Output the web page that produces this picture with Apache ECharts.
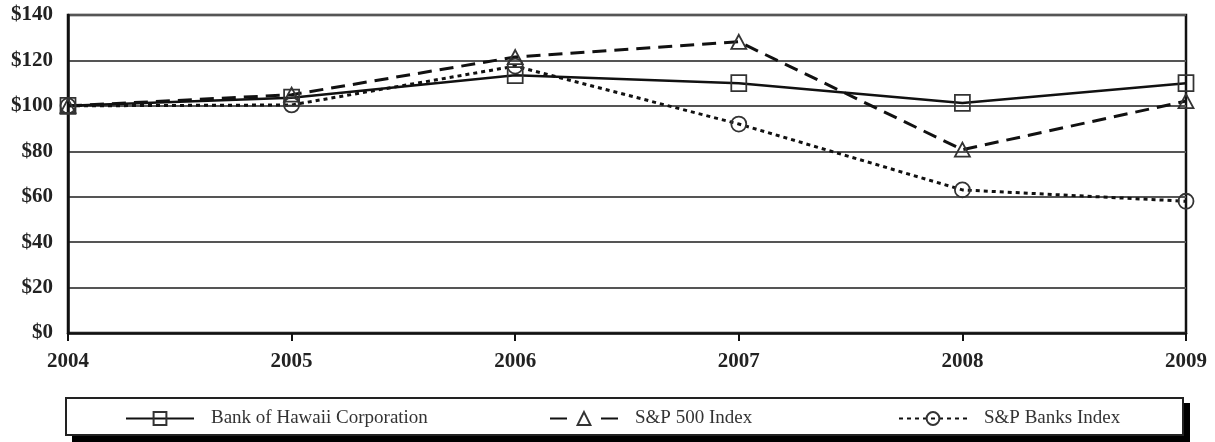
<!DOCTYPE html>
<html>
<head>
<meta charset="utf-8">
<script src="https://cdn.jsdelivr.net/npm/echarts@6/dist/echarts.min.js"></script>
<style>
html,body{margin:0;padding:0;background:#fff;}
#c{width:1215px;height:442px;}
</style>
</head>
<body>
<div id="c"></div>
<script>
const years = ['2004', '2005', '2006', '2007', '2008', '2009'];
const bankOfHawaii = [100, 103.6, 113.5, 110, 101.3, 110];
const sp500 = [100, 104.9, 121.5, 128.2, 80.7, 102.1];
const spBanks = [100, 100.4, 117.5, 92, 63, 58];
const yTicks = [0, 20, 40, 60, 80, 100, 120, 140];
const names = ['Bank of Hawaii Corporation', 'S&P 500 Index', 'S&P Banks Index'];

const serif = '"Liberation Serif", "DejaVu Serif", serif';
const chart = echarts.init(document.getElementById('c'));

function mkLegend(name, left, lineType) {
  const l = {
    data: [name], left: left, top: 409, itemWidth: 68, itemHeight: 16, itemGap: 0, padding: 0,
    textStyle: { fontFamily: serif, fontSize: 19, color: '#333', padding: [0, 0, 0, 12] },
    selectedMode: false
  };
  if (lineType) l.lineStyle = { type: lineType };
  return l;
}

chart.setOption({
  animation: false,
  backgroundColor: '#fff',
  grid: { left: 68, right: 29, top: 15, bottom: 109, show: true, borderColor: '#111', borderWidth: 2.5 },
  graphic: [
    { type: 'rect', left: 72, top: 403, shape: { width: 1118, height: 40 }, style: { fill: '#000' }, z: -2 },
    { type: 'rect', left: 65, top: 397, shape: { width: 1117, height: 37 },
      style: { fill: '#fff', stroke: '#222', lineWidth: 2 }, z: -1 }
  ],
  legend: [mkLegend(names[0], 125), mkLegend(names[1], 549, [17, 34]), mkLegend(names[2], 898)],
  xAxis: {
    type: 'category', data: years, boundaryGap: false,
    axisLine: { lineStyle: { color: '#111', width: 2.5 } },
    axisTick: { show: true, length: 8, lineStyle: { color: '#111', width: 2 }, alignWithLabel: true },
    axisLabel: { fontFamily: serif, fontWeight: 'bold', fontSize: 21, color: '#222', margin: 18 },
    splitLine: { show: false }
  },
  yAxis: {
    type: 'value', min: yTicks[0], max: yTicks[yTicks.length - 1], interval: 20,
    axisLine: { show: true, lineStyle: { color: '#111', width: 2.5 } },
    axisTick: { show: false },
    axisLabel: { fontFamily: serif, fontWeight: 'bold', fontSize: 21, color: '#222', margin: 15,
      formatter: v => '$' + v },
    splitLine: { lineStyle: { color: '#555', width: 2 } }
  },
  series: [
    {
      name: names[0], type: 'line', data: bankOfHawaii, symbol: 'rect', symbolSize: [15, 16],
      lineStyle: { color: '#111', width: 2.5, type: 'solid' },
      itemStyle: { color: 'rgba(255,255,255,0)', borderColor: '#333', borderWidth: 1.8 }, z: 3
    },
    {
      name: names[1], type: 'line', data: sp500, symbol: 'triangle', symbolSize: [15, 14],
      lineStyle: { color: '#111', width: 3, type: [14, 8] },
      itemStyle: { color: 'rgba(255,255,255,0)', borderColor: '#333', borderWidth: 1.8 }, z: 3
    },
    {
      name: names[2], type: 'line', data: spBanks, symbol: 'circle', symbolSize: 15,
      lineStyle: { color: '#111', width: 3, type: [4, 4] },
      itemStyle: { color: 'rgba(255,255,255,0)', borderColor: '#333', borderWidth: 1.8 }, z: 3
    }
  ]
});
</script>
</body>
</html>
